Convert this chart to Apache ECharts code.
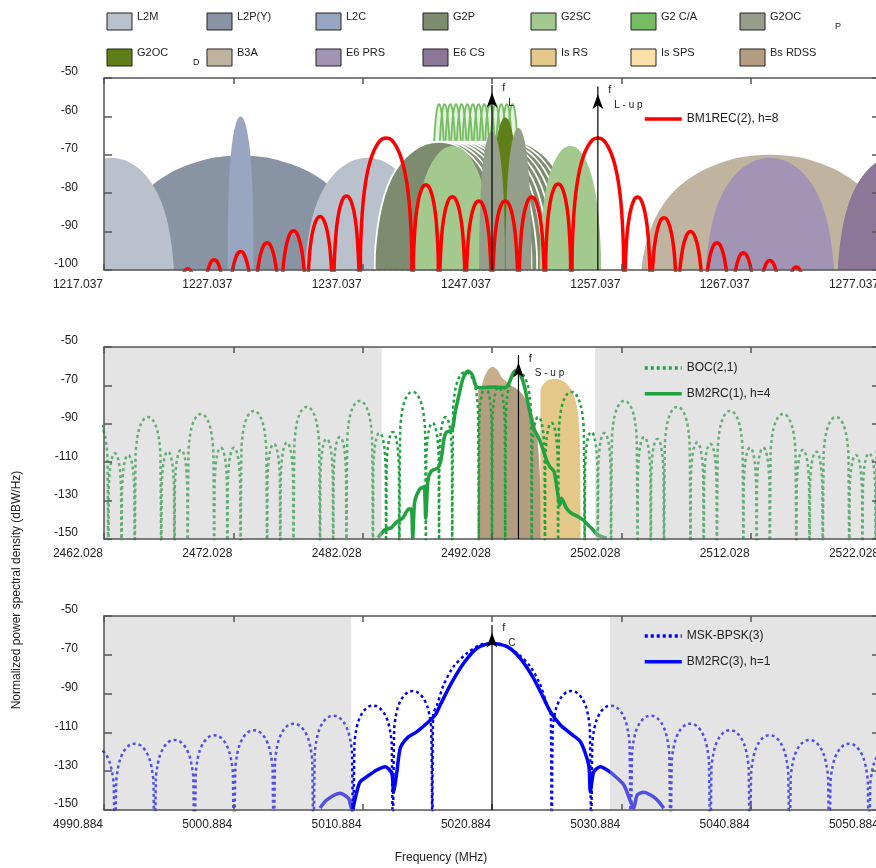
<!DOCTYPE html>
<html>
<head>
<meta charset="utf-8">
<title>Normalized PSD</title>
<script src="https://cdn.jsdelivr.net/npm/echarts/dist/echarts.min.js"></script>
<style>
html, body { margin: 0; padding: 0; background: #fff; }
#chart { width: 876px; height: 868px; }
</style>
</head>
<body>
<div id="chart"></div>
<script>
var FONT = '"Liberation Sans", Arial, sans-serif';

// lobe profiles: [position across lobe, dB below lobe peak]
var sideLobeShape = [[0,-100],[0.03,-20],[0.07,-13.2],[0.13,-8],[0.22,-4],[0.32,-1.5],[0.41,-0.3],[0.5,0],
  [0.59,-0.3],[0.68,-1.5],[0.78,-4],[0.87,-8],[0.93,-13.2],[0.97,-20],[1,-100]];
// main lobe: [fraction of half width from centre, dB below peak]
var mainLobeShape = [[-1,-100],[-0.97,-30],[-0.93,-22.5],[-0.87,-16.8],[-0.78,-11.7],[-0.66,-7.5],[-0.52,-4.3],
  [-0.38,-2.2],[-0.24,-0.8],[-0.12,-0.2],[0,0],[0.12,-0.2],[0.24,-0.8],[0.38,-2.2],[0.52,-4.3],[0.66,-7.5],
  [0.78,-11.7],[0.87,-16.8],[0.93,-22.5],[0.97,-30],[1,-100]];

// ---------- panel 1 : L band ----------
var fL = 1247.037, fLup = 1255.221;
// BM1REC(2), h=8 lobes: [left null, right null, peak dB]
var redLobes = [
  [1222.485,1224.531,-99.7],[1224.531,1226.577,-97.3],[1226.577,1228.623,-95.2],[1228.623,1230.669,-92.9],
  [1230.669,1232.715,-89.8],[1232.715,1234.761,-86.1],[1234.761,1236.807,-80.7],
  [1236.807,1240.899,-65.6],
  [1240.899,1242.945,-77.8],[1242.945,1244.991,-80.9],[1244.991,1247.037,-82],[1247.037,1249.083,-82],
  [1249.083,1251.129,-81],[1251.129,1253.175,-77.6],
  [1253.175,1257.267,-65.6],
  [1257.267,1259.313,-81],[1259.313,1261.359,-86.4],[1261.359,1263.405,-90],[1263.405,1265.451,-92.9],
  [1265.451,1267.497,-95.5],[1267.497,1269.543,-97.5],[1269.543,1271.589,-99.2]
];
// signal lobes: [centre MHz, half width MHz, peak dB]
var l2pY  = [[1227.6, 10.23, -70.2]];
var l2m   = [[1217.6, 5.0, -70.8], [1237.4, 5.0, -70.8]];
var l2c   = [[1227.6, 1.023, -60.0]];
var b3a   = [[1268.52, 10.23, -70.0]];
var e6prs = [[1268.52, 5.115, -70.8]];
var e6cs  = [[1278.75, 5.115, -69.6]];
var g2Channels = [1242.9375,1243.375,1243.8125,1244.25,1244.6875,1245.125,1245.5625,1246,
  1246.4375,1246.875,1247.3125,1247.75,1248.1875,1248.625];
var g2caLobe = [0.511, -56.8];   // half width, peak
var g2pLobe  = [5.11, -66.6];
var g2sc  = [[1244.0, 3.1, -67.7], [1253.1, 2.45, -67.7]];
var g2ocD = [[1248.06, 1.1, -60.3]];
var g2ocP = [[1247.04, 1.02, -63.9], [1249.08, 1.02, -63.0]];

// ---------- panel 2 : S band ----------
var fS = 2492.028, fSup = 2494.074;
var sBands = [[2462.028, 2483.5], [2500, 2522.028]];
// BOC(2,1) lobes on each side of fS: [inner offset, outer offset, peak dB]
var bocLobes = [[0,1.023,-71],[1.023,3.069,-63],[3.069,4.092,-86.5],[4.092,5.115,-89.6],[5.115,7.161,-73.4],
  [7.161,8.184,-94.3],[8.184,9.207,-94.8],[9.207,11.253,-78.1],[11.253,12.276,-96.9],[12.276,13.299,-97.9],
  [13.299,15.345,-81.2],[15.345,16.368,-99.8],[16.368,17.391,-100.5],[17.391,19.437,-83.3],
  [19.437,20.46,-102.5],[20.46,21.483,-102.5],[21.483,23.529,-84.9],[23.529,24.552,-103.6],
  [24.552,25.575,-104.5],[25.575,27.621,-86.5],[27.621,28.644,-106.3],[28.644,29.667,-105.4],[29.667,31.713,-88]];
var bm2rc1 = [[2483.21,-149.3],[2483.73,-145.3],[2484.24,-144.1],[2484.63,-141.3],[2485.15,-138.9],[2485.59,-134.4],
  [2485.79,-134.4],[2485.9,-149.6],[2486.05,-130.6],[2486.44,-124],[2486.77,-122.8],[2486.9,-139.2],[2487.08,-119.3],
  [2487.34,-114.6],[2487.86,-112.9],[2488.11,-108],[2488.32,-97.6],[2488.5,-94.4],[2488.94,-93.2],[2489.19,-83.7],
  [2489.53,-73.3],[2489.79,-66.3],[2490.18,-62.5],[2490.51,-64.6],[2490.82,-70.7],[2491.21,-71.2],[2492.11,-70.8],
  [2493.02,-71.2],[2493.33,-68.9],[2493.66,-63.7],[2493.92,-62.1],[2494.26,-64.9],[2494.57,-71.5],[2494.95,-83.7],
  [2495.21,-92],[2495.59,-96.7],[2495.9,-101.9],[2496.24,-108.9],[2496.5,-112.3],[2496.83,-114.9],[2497.09,-125.4],
  [2497.27,-132.3],[2497.4,-128.8],[2497.79,-134],[2498.17,-136.6],[2498.69,-138.4],[2499.08,-140.1],
  [2499.46,-142.7],[2499.85,-145.3],[2500.2,-147.9],[2500.9,-149.6]];
var bsRdssTop = [[2491.08,-149.6],[2491.13,-75],[2491.34,-67.7],[2491.67,-62.5],[2492.06,-60.3],[2492.45,-62],
  [2492.81,-66],[2493.27,-68.9],[2493.53,-70.7],[2493.58,-149.6]];
var bsRdss = [[2490.95,-149.6],[2490.97,-71.2],[2491.72,-70.7],[2493.4,-70.2],[2494.05,-72.4],[2494.57,-76.4],
  [2495.08,-83.3],[2495.46,-93.2],[2495.67,-109.7],[2495.85,-132.3],[2495.96,-149.6]];
var isRs = [[2495.77,-149.6],[2495.77,-73.3],[2495.9,-70.2],[2496.24,-67.7],[2496.76,-66.7],[2497.27,-67],
  [2497.79,-68.9],[2498.17,-72.4],[2498.48,-77.6],[2498.69,-85.4],[2498.82,-99.3],[2498.9,-149.6]];

// ---------- panel 3 : C band ----------
var fC = 5020.884;
var cBands = [[4990.884, 5010], [5030, 5050.884]];
var mskMainLobe = [[5016.28,-160],[5016.33,-101],[5016.63,-95.9],[5017.14,-85.6],[5017.91,-76.1],[5018.95,-69.2],
  [5019.98,-64.9],[5020.88,-64.1],[5021.78,-64.9],[5022.82,-69.2],[5023.85,-76.1],[5024.62,-85.6],
  [5025.14,-95.9],[5025.43,-101],[5025.48,-160]];
var mskSideLobes = [[4.6,7.66,-88.7],[7.66,10.73,-96.2],[10.73,13.8,-101.4],[13.8,16.87,-105.5],[16.87,19.94,-108.9],
  [19.94,23.0,-111.5],[23.0,26.08,-113.9],[26.08,29.15,-115.8],[29.15,32.2,-117.7]];
var bm2rc3 = [[5007.59,-149],[5008.11,-144.8],[5009.14,-141.4],[5009.79,-144],[5010.05,-150],[5010.43,-140.6],
  [5010.69,-135.4],[5011.21,-132.8],[5011.98,-129.4],[5012.63,-127.7],[5013.14,-131.1],[5013.27,-140.6],
  [5013.53,-130.3],[5013.79,-118.2],[5014.31,-113],[5015.08,-109.6],[5015.85,-105.3],[5016.5,-101],
  [5016.88,-95.9],[5017.66,-85.6],[5018.69,-74.4],[5019.72,-66.6],[5020.88,-64.1],[5022.05,-65.8],
  [5023.07,-71.8],[5024.1,-82.1],[5024.88,-92.4],[5025.4,-99.3],[5026.17,-106.2],[5026.95,-110.5],
  [5027.72,-114.8],[5028.36,-126.8],[5028.49,-140.6],[5028.75,-130.3],[5029.27,-127.7],[5029.79,-129.4],
  [5030.3,-132],[5031.08,-137.1],[5031.6,-145.7],[5031.84,-149.1],[5032.11,-142.3],[5032.62,-140.9],
  [5033.14,-142.3],[5033.66,-144.8],[5034.17,-149.1]];

var COL = {
  l2m:'#b9c1cc', l2p:'#8893a4', l2c:'#99a6c1', g2p:'#7d8b6e', g2sc:'#a3c98f', g2ca:'#76bc62',
  g2ocp:'#959e8a', g2ocd:'#5f8019', b3a:'#c0b4a1', e6prs:'#a194b4', e6cs:'#8d7799',
  isrs:'#e3c88a', issps:'#fae0a8', bsrdss:'#b39d80', red:'#ff0000', green:'#1fa33f', blue:'#0000ff'
};

function sideLobe(l, r, peak) {
  return sideLobeShape.map(function (p) { return [l + p[0] * (r - l), peak + p[1]]; });
}
function mainLobe(c, hw, peak) {
  return mainLobeShape.map(function (p) { return [c + p[0] * hw, peak + p[1]]; });
}

var series = [];
var zc = 1;
function add(s) {
  s.z = zc++;
  s.type = 'line';
  s.symbol = s.symbol || 'none';
  s.showSymbol = s.showSymbol || false;
  s.silent = true;
  s.animation = false;
  series.push(s);
  return s;
}
function fill(gi, pts, color, stroke, alpha) {
  return add({
    xAxisIndex: 2 * gi, yAxisIndex: 2 * gi, data: pts, smooth: 0.3,
    lineStyle: stroke ? { color: stroke[0], width: stroke[1] } : { width: 0, opacity: 0 },
    areaStyle: { color: color, opacity: alpha == null ? 1 : alpha, origin: 'start' }
  });
}
function fillLobes(gi, lobes, color) {
  lobes.forEach(function (l) { fill(gi, mainLobe(l[0], l[1], l[2]), color); });
}

// panel 1 fills
fillLobes(0, l2pY, COL.l2p);
fillLobes(0, l2m, COL.l2m);
fillLobes(0, l2c, COL.l2c);
fillLobes(0, b3a, COL.b3a);
fillLobes(0, e6prs, COL.e6prs);
fillLobes(0, e6cs, COL.e6cs);
g2Channels.forEach(function (c) {
  fill(0, mainLobe(c, g2caLobe[0], g2caLobe[1]), COL.g2ca, [COL.g2ca, 1.8], 0.2);
});
g2Channels.slice().reverse().forEach(function (c) {
  fill(0, mainLobe(c, g2pLobe[0], g2pLobe[1]), COL.g2p, ['#ffffff', 1.8]);
});
fillLobes(0, g2sc, COL.g2sc);
fillLobes(0, g2ocD, COL.g2ocd);
fillLobes(0, g2ocP, COL.g2ocp);

var redPts = [];
redLobes.forEach(function (l) {
  var w = l[1] - l[0];
  redPts = redPts.concat(w > 3 ? mainLobe((l[0] + l[1]) / 2, w / 2, l[2]) : sideLobe(l[0], l[1], l[2]));
});
add({ name: 'BM1REC(2), h=8', xAxisIndex: 0, yAxisIndex: 0, data: redPts, smooth: 0.3,
  lineStyle: { color: COL.red, width: 3.5 }, itemStyle: { color: COL.red } });

// panel 2
fill(1, bsRdssTop, '#c6ad8b');
fill(1, bsRdss, COL.bsrdss);
fill(1, isRs, COL.isrs);

var bocPts = [];
bocLobes.slice().reverse().forEach(function (o) { bocPts = bocPts.concat(sideLobe(fS - o[1], fS - o[0], o[2])); });
bocLobes.forEach(function (o) { bocPts = bocPts.concat(sideLobe(fS + o[0], fS + o[1], o[2])); });
var GREY = 'rgba(190,190,190,0.42)';
add({ name: 'BOC(2,1)', xAxisIndex: 2, yAxisIndex: 2, data: bocPts, smooth: 0.3,
  lineStyle: { color: COL.green, width: 2.5, type: [3, 3] }, itemStyle: { color: COL.green },
  markArea: { silent: true, z: 200, itemStyle: { color: GREY },
    data: sBands.map(function (b) { return [{ xAxis: b[0] }, { xAxis: b[1] }]; }) } });
add({ name: 'BM2RC(1), h=4', xAxisIndex: 2, yAxisIndex: 2, data: bm2rc1, smooth: 0.25,
  lineStyle: { color: COL.green, width: 3.5 }, itemStyle: { color: COL.green } });

// panel 3
var mskPts = [];
mskSideLobes.slice().reverse().forEach(function (o) { mskPts = mskPts.concat(sideLobe(fC - o[1], fC - o[0], o[2])); });
mskPts = mskPts.concat(mskMainLobe);
mskSideLobes.forEach(function (o) { mskPts = mskPts.concat(sideLobe(fC + o[0], fC + o[1], o[2])); });
add({ name: 'MSK-BPSK(3)', xAxisIndex: 4, yAxisIndex: 4, data: mskPts, smooth: 0.3,
  lineStyle: { color: COL.blue, width: 2.5, type: [3, 3] }, itemStyle: { color: COL.blue },
  markArea: { silent: true, z: 200, itemStyle: { color: GREY },
    data: cBands.map(function (b) { return [{ xAxis: b[0] }, { xAxis: b[1] }]; }) } });
add({ name: 'BM2RC(3), h=1', xAxisIndex: 4, yAxisIndex: 4, data: bm2rc3, smooth: 0.25,
  lineStyle: { color: COL.blue, width: 3.5 }, itemStyle: { color: COL.blue } });

// carrier arrows
function arrow(gi, f, bottom, tip, sub) {
  var s = add({
    xAxisIndex: 2 * gi, yAxisIndex: 2 * gi, symbol: 'arrow', showSymbol: true, symbolSize: [8, 15],
    lineStyle: { color: '#000', width: 1.2 }, itemStyle: { color: '#000' },
    data: [
      { value: [f, bottom], symbol: 'none' },
      { value: [f, tip], symbolOffset: [0, '50%'],
        label: { show: true, position: 'right', distance: 5, offset: [0, -4], color: '#222',
          formatter: '{f|f}\n{s|' + sub + '}',
          rich: { f: { fontSize: 11, lineHeight: 15, fontFamily: FONT, color: '#222' },
                  s: { fontSize: 10, lineHeight: 15, fontFamily: FONT, color: '#222', padding: [0, 0, 0, 6] } } } }
    ]
  });
  s.z = 260;
}
arrow(0, fL, -100, -51.8, 'L');
arrow(0, fLup, -100, -52.2, 'L - u p');
arrow(1, fSup, -150, -54.2, 'S - u p');
arrow(2, fC, -150, -54.6, 'C');

// axes
var AX = '#555';
function xAxes(gi, min, max) {
  var common = { type: 'value', gridIndex: gi, min: min, max: max, interval: 10, z: 250,
    axisLine: { show: true, onZero: false, lineStyle: { color: AX, width: 1.5 } },
    axisTick: { inside: true, length: 6, lineStyle: { color: AX, width: 1.5 } },
    splitLine: { show: false } };
  var bottom = Object.assign({}, common, { position: 'bottom',
    axisLabel: { margin: 9, align: 'right', padding: [0, 1, 0, 0], fontSize: 12, color: '#222', fontFamily: FONT,
      formatter: function (v) { return (min + 10 * Math.round((v - min) / 10)).toFixed(3); } } });
  var top = Object.assign({}, common, { position: 'top', axisLabel: { show: false } });
  return [bottom, top];
}
function yAxes(gi, min, interval) {
  var common = { type: 'value', gridIndex: gi, min: min, max: -50, interval: interval, z: 250,
    axisLine: { show: true, onZero: false, lineStyle: { color: AX, width: 1.5 } },
    axisTick: { inside: true, length: 8, lineStyle: { color: AX, width: 1.5 } },
    splitLine: { show: false } };
  var left = Object.assign({}, common, { position: 'left',
    axisLabel: { margin: 26, verticalAlign: 'bottom', fontSize: 12, color: '#222', fontFamily: FONT } });
  var right = Object.assign({}, common, { position: 'right', axisLabel: { show: false } });
  return [left, right];
}

// top legend (colour boxes)
var legendRow1 = [['L2M', COL.l2m], ['L2P(Y)', COL.l2p], ['L2C', COL.l2c], ['G2P', COL.g2p],
  ['G2SC', COL.g2sc], ['G2 C/A', COL.g2ca], ['G2OC', COL.g2ocp]];
var legendRow2 = [['G2OC', COL.g2ocd], ['B3A', COL.b3a], ['E6 PRS', COL.e6prs], ['E6 CS', COL.e6cs],
  ['Is RS', COL.isrs], ['Is SPS', COL.issps], ['Bs RDSS', COL.bsrdss]];
var boxX = [107, 207, 316, 423, 531, 631, 740];
var graphic = [];
function legendRow(items, y) {
  items.forEach(function (it, i) {
    graphic.push({ type: 'rect', shape: { x: boxX[i], y: y, width: 25, height: 17 },
      style: { fill: it[1], stroke: '#222', lineWidth: 1 } });
    graphic.push({ type: 'text', x: boxX[i] + 30, y: y - 2,
      style: { text: it[0], font: '11px ' + FONT, fill: '#222', verticalAlign: 'top' } });
  });
}
legendRow(legendRow1, 13);
legendRow(legendRow2, 49);
graphic.push({ type: 'text', x: 835, y: 22, style: { text: 'P', font: '9px ' + FONT, fill: '#222' } });
graphic.push({ type: 'text', x: 193, y: 58, style: { text: 'D', font: '9px ' + FONT, fill: '#222' } });
graphic.push({ type: 'text', x: 17, y: 590, rotation: Math.PI / 2,
  style: { text: 'Normalized power spectral density (dBW/Hz)', font: '12px ' + FONT, fill: '#222',
    align: 'center', verticalAlign: 'middle' } });
graphic.push({ type: 'text', x: 441, y: 858,
  style: { text: 'Frequency (MHz)', font: '12px ' + FONT, fill: '#222', align: 'center', verticalAlign: 'middle' } });

var legendBase = { orient: 'vertical', left: 643, itemWidth: 37, itemHeight: 14, itemGap: 13.7, padding: 0,
  selectedMode: false, z: 300, itemStyle: { opacity: 0 }, lineStyle: { width: 3.5 },
  textStyle: { fontSize: 12, color: '#222', fontFamily: FONT } };

var chart = echarts.init(document.getElementById('chart'), null, { renderer: 'canvas' });
chart.setOption({
  backgroundColor: '#fff',
  animation: false,
  textStyle: { fontFamily: FONT },
  grid: [
    { left: 104, top: 78, width: 776, height: 192, outerBoundsMode: 'none' },
    { left: 104, top: 347, width: 776, height: 192, outerBoundsMode: 'none' },
    { left: 104, top: 616, width: 776, height: 194, outerBoundsMode: 'none' }
  ],
  xAxis: [].concat(xAxes(0, 1217.037, 1277.037), xAxes(1, 2462.028, 2522.028), xAxes(2, 4990.884, 5050.884)),
  yAxis: [].concat(yAxes(0, -100, 10), yAxes(1, -150, 20), yAxes(2, -150, 20)),
  legend: [
    Object.assign({}, legendBase, { top: 113, data: ['BM1REC(2), h=8'] }),
    Object.assign({}, legendBase, { top: 362, data: ['BOC(2,1)', 'BM2RC(1), h=4'] }),
    Object.assign({}, legendBase, { top: 630, data: ['MSK-BPSK(3)', 'BM2RC(3), h=1'] })
  ],
  graphic: graphic,
  series: series
});
</script>
</body>
</html>
